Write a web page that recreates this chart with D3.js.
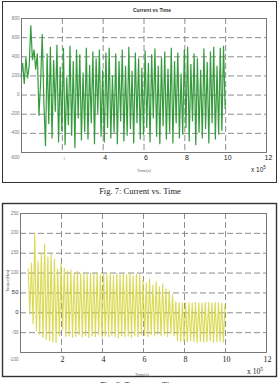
<!DOCTYPE html>
<html><head><meta charset="utf-8">
<script src="https://cdn.jsdelivr.net/npm/d3@7"></script>
<style>html,body{margin:0;padding:0;background:#fff;}svg{display:block;}</style>
</head><body>
<script>
// ---------- DATA ----------
const xTicks = [0, 2, 4, 6, 8, 10, 12];
const currentYTicks = [800, 600, 400, 200, 0, -200, -400, -600];
const torqueYTicks = [250, 200, 150, 100, 50, 0, -50, -100];
const sampleStep = 0.08;          // time step between samples (x 10^5)
const currentStart = 0.0;
const currentValues = [
  180, 330, 110, 390, 170, 300, 725, 360, 470, 260,
  430, -220, 120, 630, -80, -540, 430, -310, 500, -460,
  360, -180, 520, -500, 290, -380, 490, -530, 180, -320,
  510, -430, 350, -560, 470, -250, 420, -480, 230, -390,
  490, -470, 310, -300, 450, -520, 380, -200, 470, -440,
  260, -500, 440, -350, 490, -460, 200, -400, 430, -520,
  350, -280, 470, -490, 300, -430, 500, -360, 250, -510,
  440, -300, 380, -470, 280, -420, 460, -350, 330, -500,
  420, -250, 480, -440, 300, -520, 390, -330, 450, -470,
  270, -400, 490, -510, 350, -300, 440, -460, 220, -420,
  470, -350, 500, -490, 320, -280, 430, -530, 380, -400,
  260, -460, 480, -360, 340, -510, 450, -300, 500, -470,
  300, -420, 490, -380, 510, -150
];
const torqueStart = 0.4;
const torqueValues = [
  110, -5, 125, -30, 200, -48, 130, -58, 150, -65,
  173, -70, 140, -72, 150, -76, 135, -78, 110, -60,
  125, -45, 112, -62, 105, -60, 108, -64, 100, -62,
  104, -58, 98, -63, 102, -60, 96, -65, 100, -60,
  97, -62, 101, -58, 95, -64, 99, -61, 96, -63,
  100, -59, 94, -62, 98, -66, 95, -60, 99, -63,
  96, -61, 100, -64, 93, -60, 97, -63, 95, -58,
  82, -60, 75, -62, 85, -57, 70, -61, 78, -56,
  65, -60, 72, -58, 60, -62, 55, -55, 45, -60,
  28, -72, 25, -75, 24, -74, 26, -76, 25, -73,
  24, -75, 26, -77, 25, -74, 24, -76, 26, -75,
  25, -73, 24, -76, 26, -75, 25, -74, 24, -76,
  20
];
const currentTitle = "Current vs Time";
const caption1 = "Fig. 7: Current vs. Time";
const caption2 = "Fig. 8: Torque vs. Time";

// ---------- DRAW ----------
const svg = d3.select("body").append("svg").attr("width", 280).attr("height", 383);
svg.append("rect").attr("width", 280).attr("height", 383).attr("fill", "#fff");

function panel(cfg) {
  const g = svg.append("g");
  g.append("rect").attr("x", cfg.frame[0] + 0.5).attr("y", cfg.frame[1] + 0.5)
    .attr("width", cfg.frame[2]).attr("height", cfg.frame[3])
    .attr("fill", "none").attr("stroke", "#333").attr("stroke-width", cfg.frameW);
  const x = d3.scaleLinear().domain([0, 12]).range([cfg.left, cfg.right]);
  const y = d3.scaleLinear().domain(cfg.yDomain).range([cfg.bottom, cfg.top]);
  g.selectAll(".vg").data(xTicks.filter(d => d > 0 && d < 12)).enter().append("line")
    .attr("x1", d => x(d) + 0.5).attr("x2", d => x(d) + 0.5)
    .attr("y1", cfg.top).attr("y2", cfg.bottom)
    .attr("stroke", "#808080").attr("stroke-width", 0.9).attr("stroke-dasharray", "6,3");
  g.selectAll(".hg").data(cfg.yTicks.filter(d => d > cfg.yDomain[0] && d < cfg.yDomain[1])).enter().append("line")
    .attr("y1", d => y(d) + 0.5).attr("y2", d => y(d) + 0.5)
    .attr("x1", cfg.left).attr("x2", cfg.right)
    .attr("stroke", "#808080").attr("stroke-width", 0.9).attr("stroke-dasharray", "6,3");
  const line = d3.line().x((d, i) => x(cfg.t0 + i * sampleStep)).y(d => y(d));
  g.append("path").datum(cfg.values).attr("d", line)
    .attr("fill", "none").attr("stroke", cfg.color).attr("stroke-width", cfg.lineW)
    .attr("stroke-linejoin", "miter").attr("stroke-opacity", cfg.opacity);
  g.append("rect").attr("x", cfg.left + 0.5).attr("y", cfg.top + 0.5)
    .attr("width", cfg.right - cfg.left).attr("height", cfg.bottom - cfg.top)
    .attr("fill", "none").attr("stroke", "#6a6a6a").attr("stroke-width", 0.9);
  g.selectAll(".yl").data(cfg.yTicks).enter().append("text")
    .attr("x", cfg.left - 1.5)
    .attr("y", d => (d === cfg.yDomain[0] ? y(d) + cfg.bottomLabelDrop : y(d)) + 1.6)
    .attr("text-anchor", "end")
    .attr("font-family", "Liberation Sans, Arial, sans-serif")
    .attr("font-size", d => cfg.bigY.includes(d) ? 6 : 4.6)
    .attr("fill", d => cfg.bigY.includes(d) ? "#333" : "#777")
    .text(d => d);
  g.selectAll(".xl").data(xTicks.filter(d => d > 0)).enter().append("text")
    .attr("x", d => x(d) + cfg.xLabelShift)
    .attr("y", cfg.xLabelY)
    .attr("text-anchor", "middle")
    .attr("font-family", cfg.xFont)
    .attr("font-size", d => (d === 2 && cfg.faintTwo) ? 3 : cfg.xFontSize)
    .attr("fill", d => (d === 2 && cfg.faintTwo) ? "#888" : "#222")
    .text(d => d);
  const ex = g.append("text").attr("x", cfg.expX).attr("y", cfg.expY)
    .attr("font-family", cfg.xFont).attr("font-size", cfg.xFontSize - 0.5).attr("fill", "#222");
  ex.append("tspan").text("x 10");
  ex.append("tspan").attr("dy", -3).attr("font-size", cfg.xFontSize - 2.5).text("5");
  g.append("text").attr("x", cfg.xLabX).attr("y", cfg.xLabY).attr("text-anchor", "middle")
    .attr("font-family", "Liberation Sans, Arial, sans-serif").attr("font-size", 4.2)
    .attr("fill", "#666").text("Time(s)");
  return { g, x, y };
}

panel({
  frame: [2, 1, 274, 181], frameW: 1,
  left: 21, right: 266, top: 18, bottom: 152,
  yDomain: [-600, 800], yTicks: currentYTicks, bigY: [],
  bottomLabelDrop: 5,
  values: currentValues, t0: currentStart,
  color: "#2b9633", lineW: 1.2, opacity: 0.95,
  xLabelShift: 2.5, xLabelY: 160, xFont: "Liberation Sans, Arial, sans-serif", xFontSize: 7, faintTwo: true,
  expX: 251, expY: 172, xLabX: 144, xLabY: 171.5
});
svg.append("text").attr("x", 152).attr("y", 11.5).attr("text-anchor", "middle")
  .attr("font-family", "Liberation Sans, Arial, sans-serif").attr("font-size", 5)
  .attr("font-weight", "bold").attr("fill", "#333").text(currentTitle);

panel({
  frame: [2, 203, 274, 173], frameW: 1.4,
  left: 20, right: 266, top: 213, bottom: 352,
  yDomain: [-100, 250], yTicks: torqueYTicks, bigY: [0, 50],
  bottomLabelDrop: 7,
  values: torqueValues, t0: torqueStart,
  color: "#d6d640", lineW: 1.1, opacity: 0.9,
  xLabelShift: 1.5, xLabelY: 362, xFont: "Liberation Serif, Times New Roman, serif", xFontSize: 8, faintTwo: false,
  expX: 247, expY: 374, xLabX: 142, xLabY: 375.5
});
svg.append("text").attr("transform", "translate(8.5,281) rotate(-90)").attr("text-anchor", "middle")
  .attr("font-family", "Liberation Sans, Arial, sans-serif").attr("font-size", 4.2)
  .attr("fill", "#666").text("Torque(Nm)");

svg.append("text").attr("x", 140).attr("y", 194).attr("text-anchor", "middle")
  .attr("font-family", "Liberation Serif, Times New Roman, serif").attr("font-size", 8.5)
  .attr("fill", "#222").text(caption1);
svg.append("text").attr("x", 140).attr("y", 388).attr("text-anchor", "middle")
  .attr("font-family", "Liberation Serif, Times New Roman, serif").attr("font-size", 8.5)
  .attr("fill", "#222").text(caption2);
</script>
</body></html>
